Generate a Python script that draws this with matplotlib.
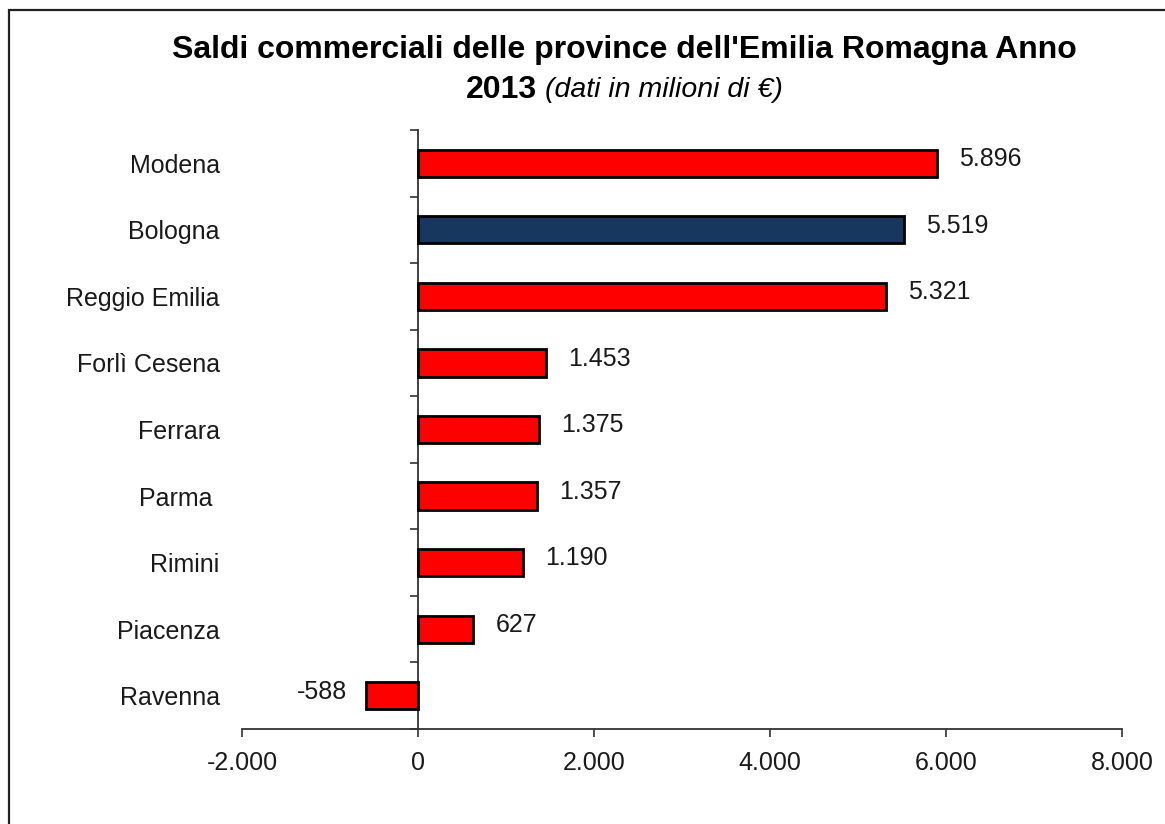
import matplotlib
matplotlib.use('Agg')
import matplotlib.pyplot as plt
from matplotlib.patches import Rectangle

plt.rcParams['font.family'] = ['Liberation Sans', 'DejaVu Sans']

# Saldi commerciali 2013, milioni di euro
province = ['Modena', 'Bologna', 'Reggio Emilia', 'Forlì Cesena', 'Ferrara',
            'Parma ', 'Rimini', 'Piacenza', 'Ravenna']
saldi = [5896, 5519, 5321, 1453, 1375, 1357, 1190, 627, -588]
colori = ['#FF0000', '#17375E', '#FF0000', '#FF0000', '#FF0000',
          '#FF0000', '#FF0000', '#FF0000', '#FF0000']
xticks = [-2000, 0, 2000, 4000, 6000, 8000]


def fmt(v):
    # separatore delle migliaia all'italiana
    return f"{v:,}".replace(",", ".")


fig = plt.figure(figsize=(11.65, 8.24), dpi=100)
ax = fig.add_axes([0.2077, 0.1153, 0.7554, 0.7269])

y = list(range(len(province)))
ax.barh(y, saldi, height=0.41, color=colori, edgecolor='black', linewidth=2.0, zorder=3)
ax.set_ylim(len(province) - 0.5, -0.5)
ax.set_xlim(xticks[0], xticks[-1])

# etichette dei valori accanto alle barre
for yi, v in zip(y, saldi):
    off = 16 if v >= 0 else -14
    ax.annotate(fmt(v), (v, yi), xytext=(off, 3), textcoords='offset points',
                ha='left' if v >= 0 else 'right', va='center', fontsize=18, color='#1a1a1a')

ax.set_yticks(y)
ax.set_yticklabels(province, fontsize=18, color='#1a1a1a')
ax.tick_params(axis='y', length=0, pad=16)
ax.set_xticks(xticks)
ax.set_xticklabels([fmt(t) for t in xticks], fontsize=18, color='#1a1a1a')
ax.tick_params(axis='x', direction='out', length=5.5, width=1.2, pad=10, color='#333333')
for s in ['top', 'right', 'left']:
    ax.spines[s].set_visible(False)
ax.spines['bottom'].set_color('#333333')
ax.spines['bottom'].set_linewidth(1.3)

# asse verticale sullo zero con tacche tra le categorie
zero = (0 - xticks[0]) / (xticks[-1] - xticks[0])
sec = ax.secondary_yaxis(zero)
sec.set_yticks([i - 0.5 for i in range(len(province) + 1)])
sec.set_yticklabels([])
sec.tick_params(direction='out', length=6, width=1.2, color='#333333')
sec.spines['left'].set_color('#333333')
sec.spines['left'].set_linewidth(1.3)

# titolo su due righe, la seconda con parte in corsivo
fig.text(0.536, 0.939, "Saldi commerciali delle province dell'Emilia Romagna Anno",
         ha='center', va='center', fontsize=23, fontweight='bold')
fig.text(0.461, 0.891, "2013", ha='right', va='center', fontsize=23, fontweight='bold')
fig.text(0.4678, 0.891, "(dati in milioni di €)", ha='left', va='center',
         fontsize=20.5, fontstyle='italic')

# cornice del grafico
fig.patches.append(Rectangle((9 / 1165, -0.1), 1.2, 1.1 - 10 / 824, transform=fig.transFigure,
                             fill=False, edgecolor='#222222', linewidth=1.6))

fig.savefig('out.png', dpi=100)
